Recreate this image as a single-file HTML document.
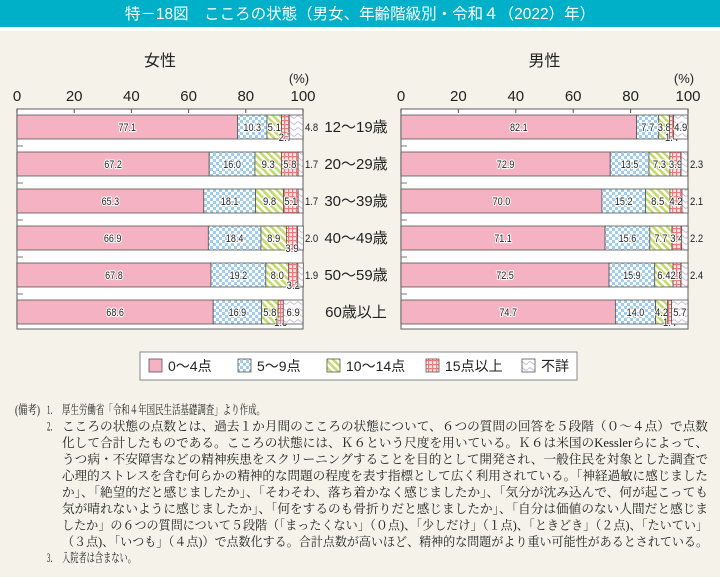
<!DOCTYPE html>
<html><head><meta charset="utf-8"><style>
html,body{margin:0;padding:0;background:#f5f2ea;}
svg{display:block;font-family:"Liberation Sans","Noto Sans CJK JP",sans-serif;}
.v{font-size:11px;fill:#222;text-anchor:middle;paint-order:stroke;stroke:#fff;stroke-width:2.2px;stroke-linejoin:round;}
.vo{font-size:11px;fill:#222;}
.tk{font-size:15px;fill:#222;text-anchor:middle;}
.note{font-family:"Liberation Serif","Noto Serif CJK JP",serif;font-size:12.5px;fill:#222;}
</style></head><body>
<svg id="chart" width="720" height="577" viewBox="0 0 720 577" xmlns="http://www.w3.org/2000/svg">
<defs>
<pattern id="pChk" width="6" height="6" patternUnits="userSpaceOnUse"><rect width="6" height="6" fill="#fff"/><rect width="3" height="3" fill="#9fcdf0"/><rect x="3" y="3" width="3" height="3" fill="#9fcdf0"/></pattern>
<pattern id="pDiag" width="5" height="5" patternUnits="userSpaceOnUse" patternTransform="rotate(-45)"><rect width="5" height="5" fill="#fff"/><rect width="2.6" height="5" fill="#c6da6c"/></pattern>
<pattern id="pGrid" width="4" height="4" patternUnits="userSpaceOnUse"><rect width="4" height="4" fill="#fde6e6"/><rect width="1.2" height="4" fill="#ee7a7a"/><rect width="4" height="1.2" fill="#ee7a7a"/></pattern>
<pattern id="pWave" width="8" height="6" patternUnits="userSpaceOnUse"><rect width="8" height="6" fill="#fff"/><path d="M0 3 Q2 0.5 4 3 T8 3" fill="none" stroke="#c8b8dc" stroke-width="1"/></pattern>
</defs>
<rect x="0" y="0" width="720" height="27" fill="#00b0c8"/>
<rect x="0" y="27" width="720" height="4" fill="#fff"/>
<text x="360" y="19" font-size="15.5" fill="#fff" text-anchor="middle">特－18図　こころの状態（男女、年齢階級別・令和４（2022）年）</text>
<g id="plots"></g>
<g id="legend">
<rect x="140" y="352" width="437" height="28" fill="#fff" stroke="#888" stroke-width="1"/>
</g>
<g id="notes"></g>
</svg>
<script>
const categories = ["12～19歳","20～29歳","30～39歳","40～49歳","50～59歳","60歳以上"];
const seriesNames = ["0～4点","5～9点","10～14点","15点以上","不詳"];
const femaleValues = [
 [77.1,10.3,5.1,2.7,4.8],
 [67.2,16.0,9.3,5.8,1.7],
 [65.3,18.1,9.8,5.1,1.7],
 [66.9,18.4,8.9,3.9,2.0],
 [67.8,19.2,8.0,3.2,1.9],
 [68.6,16.9,5.8,1.8,6.9]
];
const maleValues = [
 [82.1,7.7,3.8,1.4,4.9],
 [72.9,13.5,7.3,3.9,2.3],
 [70.0,15.2,8.5,4.2,2.1],
 [71.1,15.6,7.7,3.4,2.2],
 [72.5,15.9,6.4,2.8,2.4],
 [74.7,14.0,4.2,1.4,5.7]
];
const tickValues = [0,20,40,60,80,100];
const fills = ["#f4b2c2","url(#pChk)","url(#pDiag)","url(#pGrid)","url(#pWave)"];
const NS="http://www.w3.org/2000/svg";
function mk(tag,attrs,parent,txt){const e=document.createElementNS(NS,tag);for(const k in attrs)e.setAttribute(k,attrs[k]);if(txt!==undefined)e.textContent=txt;parent.appendChild(e);return e;}
const plots=document.getElementById('plots');
function drawPanel(title,values,x0,x1,side){
  const g=mk('g',{},plots);
  
  
  const xs=v=>x0+(x1-x0)*v/100;
  const top=109,bottom=329,pitch=37,bh=24,b0=115;
  const t=mk('text',{x:(x0+x1)/2,y:66,'font-size':16,'text-anchor':'middle',fill:'#222'},g,title);
  
  
  const u=mk('text',{x:x1-4,y:83,'font-size':13,'text-anchor':'middle',fill:'#222'},g,'(%)');
  
  
  mk('rect',{x:x0,y:top,width:x1-x0,height:bottom-top,fill:'#fff',stroke:'#777','stroke-width':1.2},g);
  tickValues.forEach(v=>{
    const lb=mk('text',{x:xs(v),y:101,class:'tk'},g,String(v));
    
    
    mk('line',{x1:xs(v),x2:xs(v),y1:top,y2:top+4,stroke:'#555','stroke-width':1},g);
  });
  values.forEach((row,i)=>{
    const y=b0+i*pitch;
    if(i<values.length-1) mk('line',{x1:x0,x2:x0+6,y1:y+bh+7,y2:y+bh+7,stroke:'#777','stroke-width':1},g);
    let acc=0;
    row.forEach((v,j)=>{
      const xa=xs(acc),xb=xs(acc+v);acc+=v;
      const r=mk('rect',{x:xa,y:y,width:Math.max(0,xb-xa),height:bh,fill:fills[j],stroke:'#555','stroke-width':0.8},g);
      
      
      const w=xb-xa;const s=v.toFixed(1);
      let lx=(xa+xb)/2,ly=y+bh/2+4,cls='v';
      if(j===4 && w<13.9){lx=x1+2;cls='vo';}
      else if(j===3 && (v<2 || (side==='female'&&v<4))){ly=y+bh+2;}
      const a={x:lx,y:ly,class:cls,lengthAdjust:'spacingAndGlyphs',textLength:s.length*4.4};
      const tx=mk('text',a,g,s);
      
      
    });
  });
}
drawPanel('女性',femaleValues,17,303,'female');
drawPanel('男性',maleValues,401,688,'male');
categories.forEach((c,i)=>{
  const t=mk('text',{x:356,y:115+i*37+17,'font-size':15,'text-anchor':'middle',fill:'#222'},plots,c);
  
  
});
const lg=document.getElementById('legend');
const lx=[149,238,327,426,522];
seriesNames.forEach((n,j)=>{
  const r=mk('rect',{x:lx[j],y:359,width:13,height:13,fill:fills[j],stroke:'#555','stroke-width':0.8},lg);
  
  
  const t=mk('text',{x:lx[j]+19,y:371,'font-size':14,fill:'#222'},lg,n);
  
  
});
const notes=document.getElementById('notes');
const lines=[
 [15,40,"(備考)"],
 [47,57,"1．"],
 [62,265,"厚生労働省「令和４年国民生活基礎調査」より作成。"],
 [47,57,"2．"],
 [62,708,"こころの状態の点数とは、過去１か月間のこころの状態について、６つの質問の回答を５段階（０～４点）で点数"],
 [62,708,"化して合計したものである。こころの状態には、Ｋ６という尺度を用いている。Ｋ６は米国のKesslerらによって、"],
 [62,708,"うつ病・不安障害などの精神疾患をスクリーニングすることを目的として開発され、一般住民を対象とした調査で"],
 [62,708,"心理的ストレスを含む何らかの精神的な問題の程度を表す指標として広く利用されている。「神経過敏に感じました"],
 [62,708,"か」、「絶望的だと感じましたか」、「そわそわ、落ち着かなく感じましたか」、「気分が沈み込んで、何が起こっても"],
 [62,708,"気が晴れないように感じましたか」、「何をするのも骨折りだと感じましたか」、「自分は価値のない人間だと感じま"],
 [62,708,"したか」の６つの質問について５段階（「まったくない」（０点)、「少しだけ」（１点)、「ときどき」（２点)、「たいてい」"],
 [62,708,"（３点)、「いつも」（４点)）で点数化する。合計点数が高いほど、精神的な問題がより重い可能性があるとされている。"],
 [47,57,"3．"],
 [62,136,"入院者は含まない。"]
];
const ys=[414,414,414,430.5,430.5,447,463.5,480,496.5,513,529.5,546,562,562];
lines.forEach((l,k)=>{
  const a={x:l[0],y:ys[k],class:'note',textLength:l[1]-l[0],lengthAdjust:'spacingAndGlyphs'};
  const t=mk('text',a,notes,l[2]);
  
  
});
</script>
</body></html>
